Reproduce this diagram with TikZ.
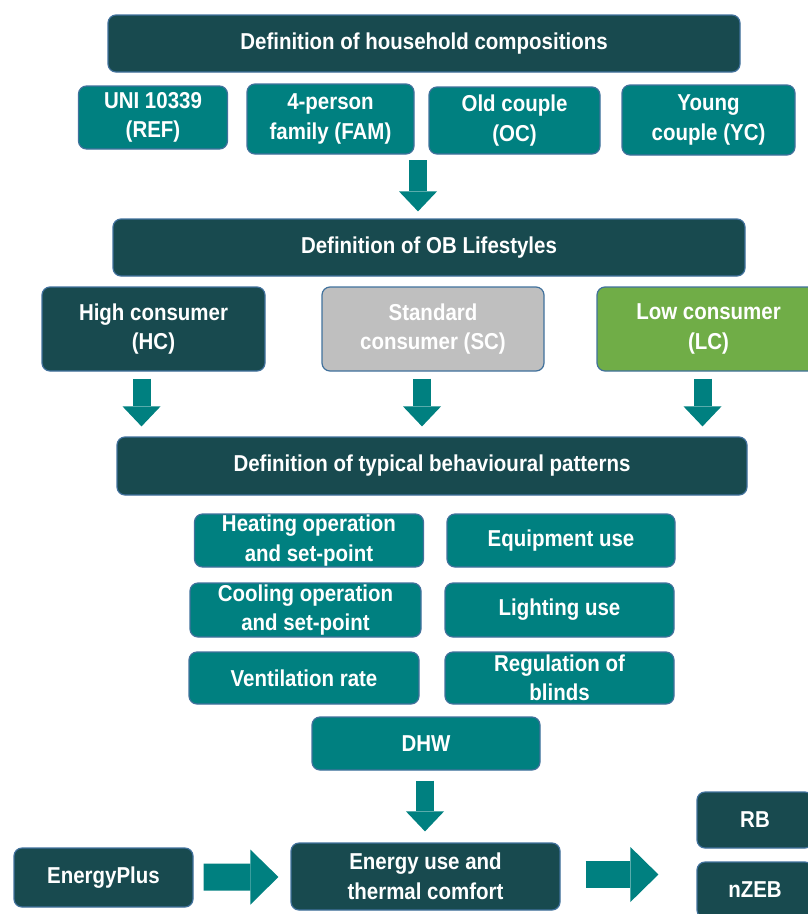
\documentclass[tikz,border=0pt]{standalone}
\usepackage{fontspec}
\setmainfont[FakeStretch=0.89]{Liberation Sans}
\usetikzlibrary{arrows.meta}

\definecolor{darkteal}{HTML}{184A4F}
\definecolor{boxteal}{HTML}{008080}
\definecolor{edgeblue}{HTML}{41719C}
\definecolor{scgrey}{HTML}{BFBFBF}
\definecolor{lcgreen}{HTML}{70AD47}

\begin{document}
\begin{tikzpicture}[x=1pt, y=-1pt,
  box/.style={rectangle, rounded corners=8pt, draw=edgeblue, line width=1.2pt,
              text=white, align=center, inner sep=0pt,
              font=\fontsize{23}{29.5}\selectfont\bfseries},
  dark box/.style={box, fill=darkteal},
  teal box/.style={box, fill=boxteal},
  down arrow/.style={draw=boxteal, line width=18pt,
              -{Triangle[width=38pt, length=20pt, line width=0pt]}},
  right arrow/.style={draw=boxteal, line width=27pt,
              -{Triangle[width=55pt, length=28pt, line width=0pt]}}]

\useasboundingbox (0,0) rectangle (807,914);

% household compositions
\node[dark box, minimum width=632, minimum height=57](house) at (424,43.5)
    {Definition of household compositions};
\node[teal box, minimum width=149, minimum height=63](ref) at (153,117.5)
    {UNI 10339\\(REF)};
\node[teal box, minimum width=167, minimum height=70](fam) at (330.5,119)
    {4-person\\family (FAM)};
\node[teal box, minimum width=171, minimum height=67](oc) at (514.5,120.5)
    {Old couple\\(OC)};
\node[teal box, minimum width=173, minimum height=70](yc) at (708.5,120)
    {Young\\couple (YC)};

% lifestyles
\node[dark box, minimum width=632, minimum height=57](life) at (429,247.5)
    {Definition of OB Lifestyles};
\node[dark box, minimum width=223, minimum height=84](hc) at (153.5,329)
    {High consumer\\(HC)};
\node[box, fill=scgrey, minimum width=222, minimum height=84](sc) at (433,329)
    {Standard\\consumer (SC)};
\node[box, fill=lcgreen, minimum width=223, minimum height=84](lc) at (708.5,329)
    {Low consumer\\(LC)};

% behavioural patterns
\node[dark box, minimum width=630, minimum height=58](patt) at (432,466)
    {Definition of typical behavioural patterns};
\node[teal box, minimum width=229, minimum height=53](heat) at (309,540.5)
    {Heating operation\\and set-point};
\node[teal box, minimum width=228, minimum height=53](equip) at (561,540.5)
    {Equipment use};
\node[teal box, minimum width=231, minimum height=54](cool) at (305.5,610)
    {Cooling operation\\and set-point};
\node[teal box, minimum width=229, minimum height=54](light) at (559.5,610)
    {Lighting use};
\node[teal box, minimum width=230, minimum height=52](vent) at (304,678)
    {Ventilation rate};
\node[teal box, minimum width=229, minimum height=52](blind) at (559.5,678)
    {Regulation of\\blinds};
\node[teal box, minimum width=228, minimum height=53](dhw) at (426,743.5)
    {DHW};

% simulation and results
\node[dark box, minimum width=179, minimum height=59](eplus) at (103.5,877.5)
    {EnergyPlus};
\node[dark box, minimum width=269, minimum height=67](energy) at (425.5,876.5)
    {Energy use and\\thermal comfort};
\node[dark box, minimum width=116, minimum height=56](rb) at (755,820)
    {RB};
\node[dark box, minimum width=116, minimum height=56](nzeb) at (755,890)
    {nZEB};

\coordinate (gap) at (418,154);

\draw[down arrow, shorten <=6pt, shorten >=7pt] (gap) -- (gap |- life.north);
\draw[down arrow, shorten <=7pt, shorten >=10pt]
    ([xshift=-12pt]hc.south) -- ([xshift=-12pt]hc.south |- patt.north);
\draw[down arrow, shorten <=7pt, shorten >=10pt]
    ([xshift=-11pt]sc.south) -- ([xshift=-11pt]sc.south |- patt.north);
\draw[down arrow, shorten <=7pt, shorten >=10pt]
    ([xshift=-6pt]lc.south) -- ([xshift=-6pt]lc.south |- patt.north);
\draw[down arrow, shorten <=10pt, shorten >=11pt]
    ([xshift=-1pt]dhw.south) -- ([xshift=-1pt]dhw.south |- energy.north);

\draw[right arrow, shorten <=10pt, shorten >=12pt] (eplus) -- (energy);
\draw[right arrow, shorten <=25pt, shorten >=38pt]
    ([yshift=2pt]energy.east) -- ([yshift=2pt]energy.east -| nzeb.west);

\end{tikzpicture}
\end{document}
